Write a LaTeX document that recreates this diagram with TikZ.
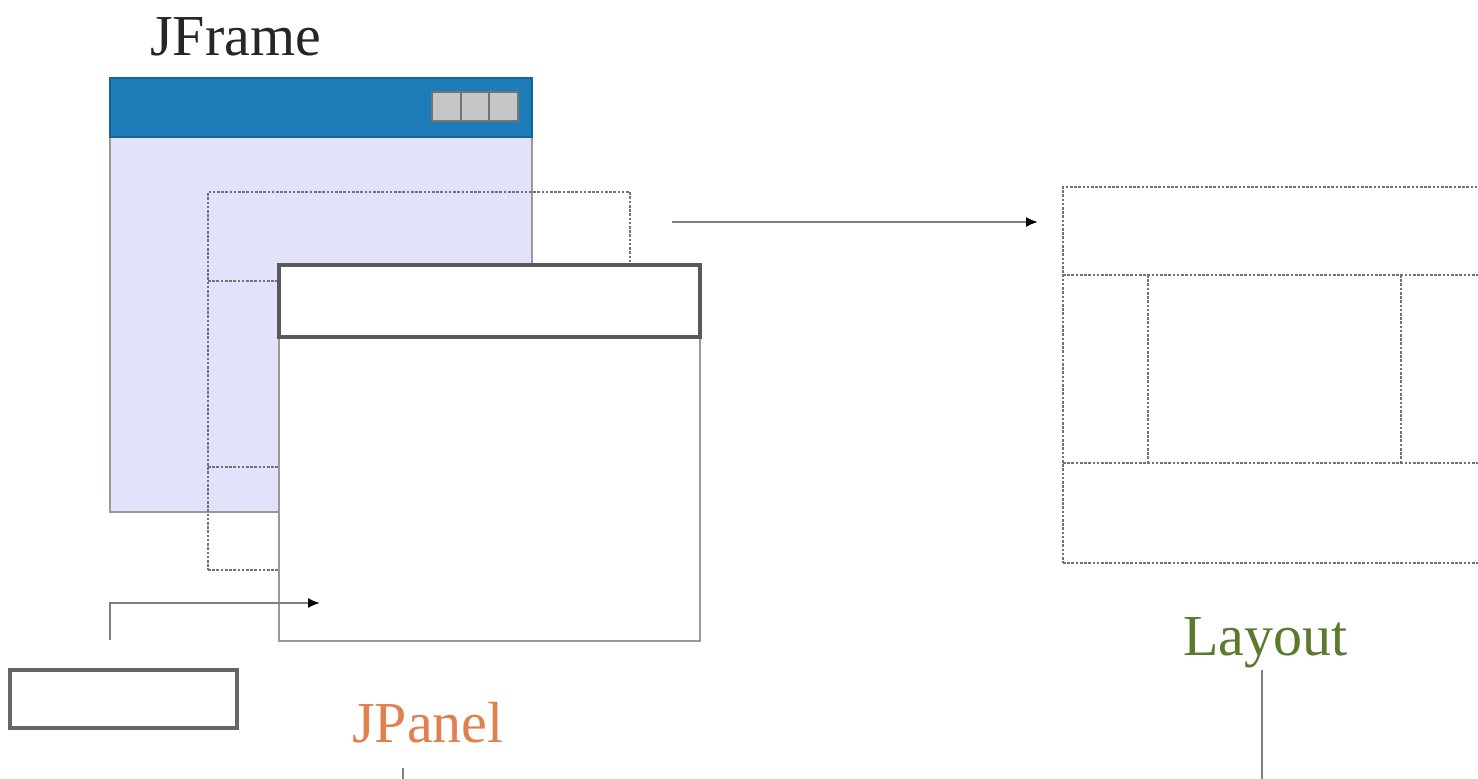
\documentclass[tikz,border=0pt]{standalone}
\usepackage{fontspec}
\setmainfont{Liberation Serif}
\usetikzlibrary{arrows.meta}
\definecolor{titleblue}{HTML}{1E7DB8}
\definecolor{framefill}{HTML}{E2E2FA}
\definecolor{btngray}{HTML}{C6C6C6}
\definecolor{panelorange}{HTML}{E0804F}
\definecolor{layoutgreen}{HTML}{5B7A2E}
\begin{document}
\begin{tikzpicture}[
        x=0.02cm, y=-0.02cm,  % one unit is one pixel of the original
        >={Latex[length=2.4mm,width=2mm,color=black]},
        win/.style={draw=black!40, line width=1pt, inner sep=0pt, outer sep=0pt, anchor=north west},
        dots/.style={draw=black!55, line width=1.4pt, dash pattern=on 1.5pt off 0.9pt},
        lbl/.style={font=\fontsize{33}{40}\selectfont, inner sep=0pt, anchor=base west},
        link/.style={draw=black!50, line width=1.1pt}
    ]
    \clip (0,0) rectangle (1478,778);

    % The frame with its title bar and buttons
    \node[win, fill=framefill, minimum width=8.44cm, minimum height=8.68cm] (frame) at (110,78) {};
    \node[win, draw=titleblue!80!black, fill=titleblue, minimum width=8.44cm, minimum height=1.18cm] (frametitle) at (110,78) {};
    \foreach \i in {0,1,2}
        \node[win, draw=black!55, fill=btngray, minimum width=0.57cm, minimum height=0.58cm] (btn\i) at (432+\i*28.7,92) {};
    \node[lbl, text=black!85] (framelbl) at (150,55) {JFrame};

    % Small layout behind the panel
    \node[win, dots, minimum width=8.44cm, minimum height=7.56cm] (mini) at (208,192) {};
    \draw[dots] (mini.west |- 0,281) -- (mini.east |- 0,281);
    \draw[dots] (mini.west |- 0,467) -- (mini.east |- 0,467);

    % The panel in front
    \node[win, fill=white, minimum width=8.42cm, minimum height=7.52cm] (panel) at (279,265) {};
    \node[win, draw=black!65, line width=2.2pt, minimum width=8.42cm, minimum height=1.44cm] (paneltitle) at (279,265) {};
    \node[lbl, text=panelorange] (panellbl) at (352,742) {JPanel};

    % Component put into the panel
    \node[win, draw=black!60, line width=2.6pt, minimum width=4.54cm, minimum height=1.16cm] (comp) at (10,670) {};
    \coordinate (compup) at (110,640);
    \coordinate (compin) at (320,603);
    \draw[link, ->] (compup) |- (compin);

    % The layout on the right
    \node[win, dots, minimum width=8.44cm, minimum height=7.52cm] (layout) at (1063,187) {};
    \draw[dots] (layout.west |- 0,275) -- (layout.east |- 0,275);
    \draw[dots] (layout.west |- 0,463) -- (layout.east |- 0,463);
    \draw[dots] (1148,275) -- (1148,463);
    \draw[dots] (1401,275) -- (1401,463);
    \node[lbl, text=layoutgreen] (layoutlbl) at (1183,655) {Layout};

    % Arrow from the small layout to the big one
    \coordinate (arrowy) at (0,222);
    \draw[link, ->, shorten <=0.84cm, shorten >=0.5cm] (mini.east |- arrowy) -- (layout.west |- arrowy);

    % Lines leaving the picture
    \coordinate (panelcut) at (403,768);
    \coordinate (layoutcut) at (1262,670);
    \draw[link] (panelcut) -- ++(0,20);
    \draw[link] (layoutcut) -- ++(0,120);

\end{tikzpicture}
\end{document}
